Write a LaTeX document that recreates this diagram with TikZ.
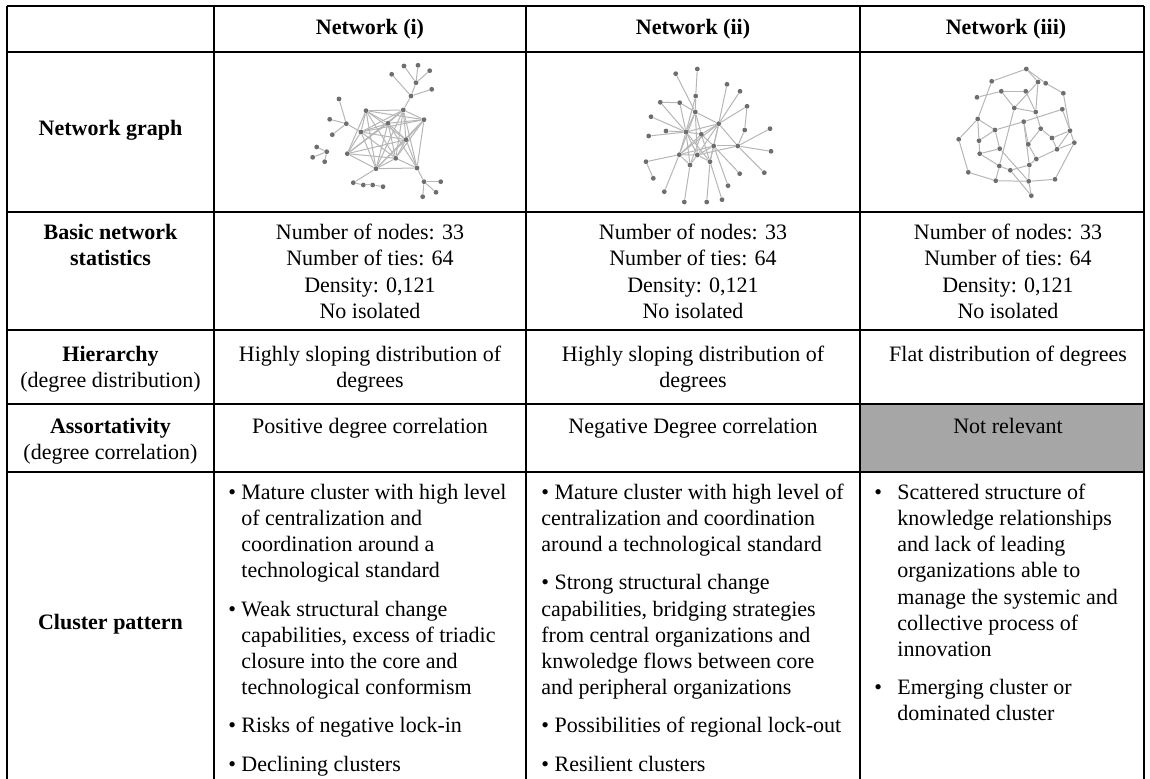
\documentclass[tikz,border=0pt]{standalone}
\usepackage{fontspec}
\setmainfont{Liberation Serif}
\usetikzlibrary{backgrounds}
\definecolor{cellgray}{RGB}{166,166,166}
\definecolor{dotgray}{RGB}{110,110,110}
\definecolor{edgegray}{RGB}{182,182,182}
\begin{document}
\begin{tikzpicture}[x=0.5pt,y=-0.5pt,
  txt/.style={inner sep=0pt, font=\fontsize{11}{13.1}\selectfont},
  ctxt/.style={txt, align=center, anchor=north},
  mtxt/.style={txt, align=center, anchor=center},
  ltxt/.style={txt, align=left, anchor=north west},
  gn/.style={circle, fill=dotgray, inner sep=0pt, minimum size=2.4pt},
  ge/.style={draw=edgegray, line width=0.5pt},
  gridline/.style={line width=0.75pt, black}]
\useasboundingbox (0,0) rectangle (1150,779);
% shaded cell
\fill[cellgray] (860,404) rectangle (1144,472);
% table rules
\foreach \yy in {6,52,212,330,404,472}
  \draw[gridline] (7,\yy) -- (1144,\yy);
\foreach \xx in {7,214,526,860,1144}
  \draw[gridline] (\xx,6) -- (\xx,779);
% header
\node[ctxt] (h1) at (370,16) {\strut\textbf{Network (i)}};
\node[ctxt] (h2) at (693,16) {\strut\textbf{Network (ii)}};
\node[ctxt] (h3) at (1006,16) {\strut\textbf{Network (iii)}};
% row labels
\node[mtxt] (lg) at (110.5,130) {\strut\textbf{Network graph}};
\node[ctxt] (lb) at (110.5,221) {\strut\textbf{Basic network}\\\textbf{statistics}};
\node[ctxt] (lh) at (110.5,343) {\strut\textbf{Hierarchy}\\(degree distribution)};
\node[ctxt] (la) at (110.5,415) {\strut\textbf{Assortativity}\\(degree correlation)};
\node[mtxt] (lc) at (110.5,624) {\strut\textbf{Cluster pattern}};
% basic statistics
\node[ctxt] (s1) at (370,221) {\strut Number of nodes: 33\\Number of ties: 64\\Density: 0,121\\No isolated};
\node[ctxt] (s2) at (693,221) {\strut Number of nodes: 33\\Number of ties: 64\\Density: 0,121\\No isolated};
\node[ctxt] (s3) at (1008,221) {\strut Number of nodes: 33\\Number of ties: 64\\Density: 0,121\\No isolated};
% hierarchy
\node[ctxt] (d1) at (370,343) {\strut Highly sloping distribution of\\degrees};
\node[ctxt] (d2) at (693,343) {\strut Highly sloping distribution of\\degrees};
\node[ctxt] (d3) at (1008,343) {\strut Flat distribution of degrees};
% assortativity
\node[ctxt] (p1) at (370,415) {\strut Positive degree correlation};
\node[ctxt] (p2) at (693,415) {\strut Negative Degree correlation};
\node[ctxt] (p3) at (1008,415) {\strut Not relevant};
% cluster pattern
\node[ltxt] (k1) at (228,480.5) {\strut\makebox[6.5pt][l]{\textbullet}Mature cluster with high level\\
\hspace*{6.5pt}of centralization and\\
\hspace*{6.5pt}coordination around a\\
\hspace*{6.5pt}technological standard\\[6pt]
\makebox[6.5pt][l]{\textbullet}Weak structural change\\
\hspace*{6.5pt}capabilities, excess of triadic\\
\hspace*{6.5pt}closure into the core and\\
\hspace*{6.5pt}technological conformism\\[6pt]
\makebox[6.5pt][l]{\textbullet}Risks of negative lock-in\\[6pt]
\makebox[6.5pt][l]{\textbullet}Declining clusters};
\node[ltxt] (k2) at (541,480.5) {\strut\textbullet\ Mature cluster with high level of\\
centralization and coordination\\
around a technological standard\\[6pt]
\textbullet\ Strong structural change\\
capabilities, bridging strategies\\
from central organizations and\\
knwoledge flows between core\\
and peripheral organizations\\[6pt]
\textbullet\ Possibilities of regional lock-out\\[6pt]
\textbullet\ Resilient clusters};
\node[ltxt] (k3) at (874,480.5) {\strut\makebox[11.5pt][l]{\textbullet}Scattered structure of\\
\hspace*{11.5pt}knowledge relationships\\
\hspace*{11.5pt}and lack of leading\\
\hspace*{11.5pt}organizations able to\\
\hspace*{11.5pt}manage the systemic and\\
\hspace*{11.5pt}collective process of\\
\hspace*{11.5pt}innovation\\[6pt]
\makebox[11.5pt][l]{\textbullet}Emerging cluster or\\
\hspace*{11.5pt}dominated cluster};
% ---------- Network (i)
\foreach \n/\x/\y in {a1/404/66, a2/418/65.3, a3/429.7/70.7, a4/391.7/74.3, a5/416/82.7, a6/431.7/89.3, a7/411/96,
  c1/366/110.7, c2/403.3/110, c3/424/119.7, c4/388/123.3, c5/361/132, c6/406/139.7, c7/347.3/153.7, c8/395.7/158.3, c9/376/168.7, c10/417/168,
  l1/339/99, l2/329.7/119.3, l3/346.3/123.7, l4/332.3/134.7,
  f1/316.7/147, f2/326.7/151.7, f3/312.7/157.3, f4/324.7/161.7,
  b1/353.3/182.7, b2/363.3/185, b3/372.7/185, b4/383/186.7,
  r1/424/181.7, r2/440.7/181.7, r3/436/192.3, r4/422.7/196.7}
  \node[gn] (A\n) at (\x,\y) {};
\begin{scope}[on background layer]
\foreach \u/\v in {a1/a5, a2/a5, a3/a5, a5/a7, a4/a7, a6/a7, a7/c2,
  l1/l3, l2/l3, l4/l3, l3/c5, f1/f2, f3/f2, f4/f2,
  b1/c9, b1/b2, b2/b3, b3/b4, c10/r1, r1/r2, r1/r3, r1/r4,
  c1/c2, c1/c3, c1/c4, c1/c5, c1/c6, c1/c7, c1/c8, c1/c9,
  c2/c3, c2/c4, c2/c5, c2/c6, c2/c7, c2/c8, c2/c9, c2/c10,
  c3/c4, c3/c5, c3/c6, c3/c8, c3/c9, c3/c10,
  c4/c5, c4/c6, c4/c7, c4/c8, c4/c9, c4/c10,
  c5/c6, c5/c7, c5/c8, c5/c9,
  c6/c7, c6/c8, c6/c9, c6/c10,
  c7/c8, c7/c9, c8/c9, c8/c10, c9/c10}
  \draw[ge] (A\u) -- (A\v);
\end{scope}
% ---------- Network (ii)
\foreach \n/\x/\y in {1/675.7/73.7, 2/697.3/69, 3/727/84.3, 4/740/91.3, 5/695.7/96, 6/660.3/102.3, 7/679.7/102.7,
  8/747/106.3, 9/695.3/112, 10/651/116.7, 11/718.7/123.7, 12/744.7/130, 13/770/128.7, 14/666/131,
  15/686/132, 16/701.3/134.3, 17/648.7/136, 18/713.7/146, 19/737.7/146, 20/771/151.3, 21/679.3/154.7,
  22/697.3/155, 23/646/161.7, 24/690/165, 25/710/161.7, 26/653.3/178.3, 27/739.7/173.7, 28/764.3/172.7,
  29/728/185.7, 30/664.3/191.7, 31/684.3/202, 32/706.7/202, 33/722/199.7}
  \node[gn] (B\n) at (\x,\y) {};
\begin{scope}[on background layer]
\foreach \u/\v in {1/9, 2/5, 5/9, 5/15, 3/11, 4/11, 8/11, 8/12, 6/7, 7/15, 6/15, 10/15, 14/15, 17/15,
  9/11, 9/15, 9/16, 11/15, 11/16, 11/18, 11/21, 13/19, 19/18, 19/20, 19/22, 19/28, 21/23, 23/26,
  21/30, 21/15, 21/22, 21/18, 22/24, 22/25, 25/18, 25/32, 25/33, 18/29, 18/27, 16/18, 15/22, 15/25,
  16/24, 9/22, 11/19, 16/21, 24/31, 16/15, 11/25, 15/24, 7/9, 16/25, 21/24, 12/19, 9/21, 22/18, 11/22}
  \draw[ge] (B\u) -- (B\v);
\end{scope}
% ---------- Network (iii)
\foreach \n/\x/\y in {1/1026.3/69, 2/991.7/81.3, 3/1038/82, 4/1045.7/83.3, 5/1001.3/91.3, 6/1025.7/91.3, 7/1063.3/93.3,
  8/977/97.3, 9/1014.3/108, 10/1035.7/112, 11/1062.3/109.3, 12/977.7/119, 13/1023.7/121.7, 14/995/130,
  15/1040.7/128.7, 16/1070/130.7, 17/958.7/139.3, 18/979/140.7, 19/1052/138, 20/1074.3/142.7, 21/1028.3/144.3,
  22/999.7/148.7, 23/1057/149.3, 24/979.7/153.7, 25/1036.3/159, 26/999.3/166, 27/1029.3/165, 28/1010.3/170.3,
  29/968.3/172.3, 30/995.7/180.7, 31/1028.7/181.3, 32/1055/179.3, 33/1031.3/195.7}
  \node[gn] (C\n) at (\x,\y) {};
\begin{scope}[on background layer]
\foreach \u/\v in {1/2, 1/4, 1/3, 3/9, 4/7, 3/10, 2/12, 5/8, 5/6, 5/9, 6/10, 9/10, 7/16, 11/16,
  10/15, 11/13, 12/14, 12/18, 12/17, 14/13, 14/22, 18/14, 18/24, 24/22, 24/26, 22/31, 17/29, 29/30,
  30/31, 26/28, 28/27, 27/25, 26/30, 31/32, 31/33, 32/20, 20/16, 16/19, 19/15, 15/21, 21/25, 19/23,
  23/20, 25/23, 13/27, 27/31, 13/21, 9/26, 33/28, 16/23}
  \draw[ge] (C\u) -- (C\v);
\end{scope}
\end{tikzpicture}
\end{document}
